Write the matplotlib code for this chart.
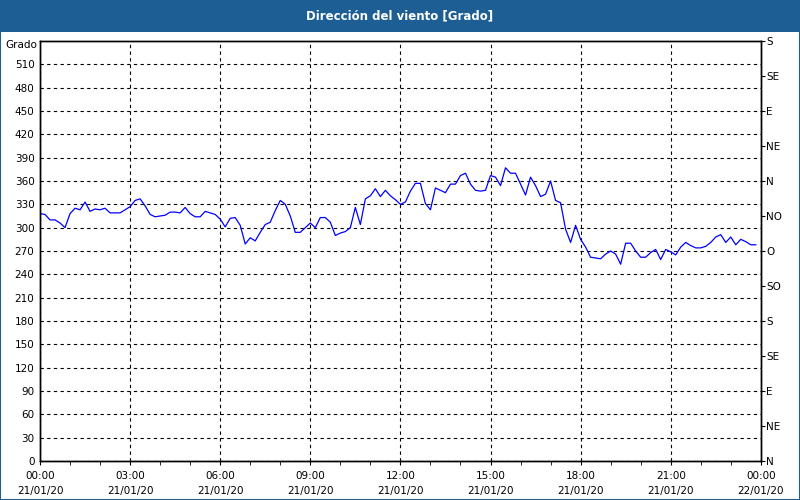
import numpy as np
import matplotlib
matplotlib.use("Agg")
from matplotlib import pyplot as plt
from matplotlib.ticker import MultipleLocator

# wind direction, one reading every 10 minutes from 00:00 to 23:50
direction = [
    318, 317, 310, 310, 306, 300, 318, 325, 323, 333,
    321, 324, 323, 325, 319, 319, 319, 323, 327, 335,
    337, 328, 317, 314, 315, 316, 320, 320, 319, 326,
    318, 314, 314, 321, 319, 317, 311, 301, 312, 313,
    303, 279, 287, 283, 294, 304, 307, 322, 335,
    330, 315, 294, 294, 300, 306, 300, 313, 313, 307,
    290, 293, 295, 300, 326, 304, 337, 341, 350, 340,
    348, 341, 336, 330, 333, 347, 357, 357, 331, 323,
    351, 348, 345, 356, 356, 367, 370, 356, 348, 347,
    348, 367, 365, 354, 377, 370,
    370, 356, 342, 365, 354, 340, 343, 360, 335, 332,
    298, 281, 303, 285, 275, 262, 261, 260, 266, 270,
    266, 253, 280, 280, 270, 262, 262, 268, 272, 259,
    272, 269, 265, 275, 281, 277, 274, 274, 276, 281,
    288, 291, 281, 288, 278, 285, 282, 278, 278,
]
hours = np.arange(len(direction)) / 6.0

tick_hours = [0, 3, 6, 9, 12, 15, 18, 21, 24]
tick_labels = ["00:00\n21/01/20", "03:00\n21/01/20", "06:00\n21/01/20",
               "09:00\n21/01/20", "12:00\n21/01/20", "15:00\n21/01/20",
               "18:00\n21/01/20", "21:00\n21/01/20", "00:00\n22/01/20"]

compass_deg = [0, 45, 90, 135, 180, 225, 270, 315, 360, 405, 450, 495, 540]
compass_lbl = ["N", "NE", "E", "SE", "S", "SO", "O", "NO", "N", "NE", "E", "SE", "S"]

plt.rcParams['font.family'] = ['DejaVu Sans']
fig = plt.figure(figsize=(8, 5), dpi=100)
fig.patch.set_facecolor("white")

# title bar
bar = fig.add_axes([0, 0.936, 1, 0.064])
bar.set_facecolor("#1d5f95")
bar.set_xticks([])
bar.set_yticks([])
for s in bar.spines.values():
    s.set_visible(False)
bar.text(0.5, 0.5, "Dirección del viento [Grado]", color="white",
         fontsize=8.5, fontweight="bold", ha="center", va="center",
         transform=bar.transAxes)

# thin border round the whole picture
fig.add_artist(plt.Rectangle((0.0005, 0.001), 0.999, 0.998, transform=fig.transFigure,
                             fill=False, edgecolor="#1d5f95", linewidth=1.5))

ax = fig.add_axes([0.05, 0.078, 0.901, 0.84])
ax.plot(hours, direction, color="#0000ff", linewidth=0.9)

ax.set_xlim(0, 24)
ax.set_ylim(0, 540)
ax.set_xticks(tick_hours)
ax.set_xticklabels(tick_labels, linespacing=1.6)
ax.xaxis.set_minor_locator(MultipleLocator(1))
ax.set_yticks(np.arange(0, 540, 30))
ax.tick_params(axis="x", which="both", direction="out", length=3, labelsize=7.5, pad=4)
ax.tick_params(axis="y", length=0, labelsize=7.5, pad=4)
ax.grid(True, which="major", color="black", linestyle=(0, (3, 3)), linewidth=0.8)

for s in ax.spines.values():
    s.set_linewidth(1.0)

ax2 = ax.twinx()
ax2.set_ylim(0, 540)
ax2.set_yticks(compass_deg)
ax2.set_yticklabels(compass_lbl)
ax2.tick_params(axis="y", direction="out", length=3, labelsize=7.5, pad=1)
for s in ax2.spines.values():
    s.set_linewidth(1.0)

fig.text(0.046, 0.909, "Grado", fontsize=7.5, ha="right", va="center")

fig.savefig("out.png", dpi=100)
